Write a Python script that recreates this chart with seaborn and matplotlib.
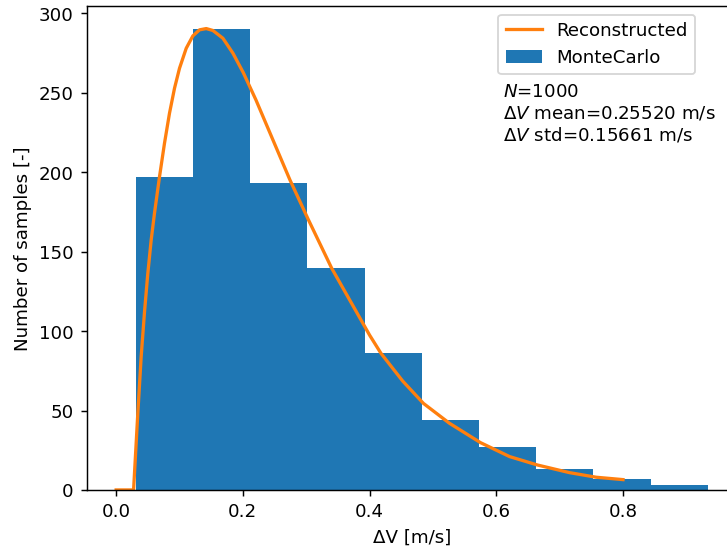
import matplotlib

matplotlib.use('Agg')
import matplotlib.pyplot as plt
import seaborn as sns

# ==========================================
# 数据
# ==========================================
# 蒙特卡洛直方图：分箱边界与每箱样本数
bin_edges = [0.0310, 0.1213, 0.2116, 0.3019, 0.3922, 0.4825,
             0.5728, 0.6631, 0.7534, 0.8437, 0.9340]
counts = [197, 290, 193, 140, 86, 44, 27, 13, 7, 3]

# 重构分布曲线（已缩放到样本数）
curve_x = [0.0, 0.0275, 0.0342, 0.0395, 0.0448, 0.0500, 0.0553, 0.0605,
           0.0684, 0.0763, 0.0842, 0.0921, 0.1000, 0.1106, 0.1211, 0.1316,
           0.1422, 0.1527, 0.1685, 0.1843, 0.2006, 0.2206, 0.2743, 0.3030,
           0.3402, 0.4000, 0.4180, 0.4524, 0.4850, 0.5260, 0.5750, 0.6210,
           0.6650, 0.7155, 0.7577, 0.8000]
curve_y = [0.0, 0.0, 48.3, 84.0, 112.3, 136.4, 157.4, 174.2,
           197.1, 218.3, 237.2, 252.9, 265.5, 278.1, 285.9, 289.7,
           290.5, 289.3, 284.4, 275.0, 262.8, 245.6, 195.2, 170.5,
           139.6, 97.5, 86.0, 68.5, 54.5, 42.0, 29.8, 21.0,
           15.7, 10.9, 8.0, 6.5]

# 统计信息
n_samples = 1000
dv_mean = 0.25520
dv_std = 0.15661

# ==========================================
# 绘图
# ==========================================
dpi = 131
fig = plt.figure(figsize=(727.5 / dpi, 552.5 / dpi), dpi=dpi)
# 坐标轴右侧超出画布（参考图被裁剪）
ax = fig.add_axes([86.5 / 727, 62 / 552, 650.5 / 727, 484 / 552])

centres = [(a + b) / 2 for a, b in zip(bin_edges[:-1], bin_edges[1:])]
sns.histplot(x=centres, weights=counts, bins=bin_edges, color='#1f77b4',
             alpha=1, linewidth=0, label='MonteCarlo', ax=ax)
sns.lineplot(x=curve_x, y=curve_y, color='#ff7f0e', linewidth=1.8,
             label='Reconstructed', ax=ax)

ax.set_xlabel('ΔV [m/s]')
ax.set_ylabel('Number of samples [-]')

ax.legend(loc='upper left', bbox_to_anchor=((498 - 86.5) / 650.5, (490 - 15) / 484),
          borderaxespad=0)

info = '\n'.join([
    f'$N$={n_samples}',
    f'$\\Delta V$ mean={dv_mean:.5f} m/s',
    f'$\\Delta V$ std={dv_std:.5f} m/s',
])
ax.text(0.640, 0.842, info, transform=ax.transAxes, ha='left', va='top',
        linespacing=1.25)

fig.savefig('out.png', dpi=dpi)
plt.close()
